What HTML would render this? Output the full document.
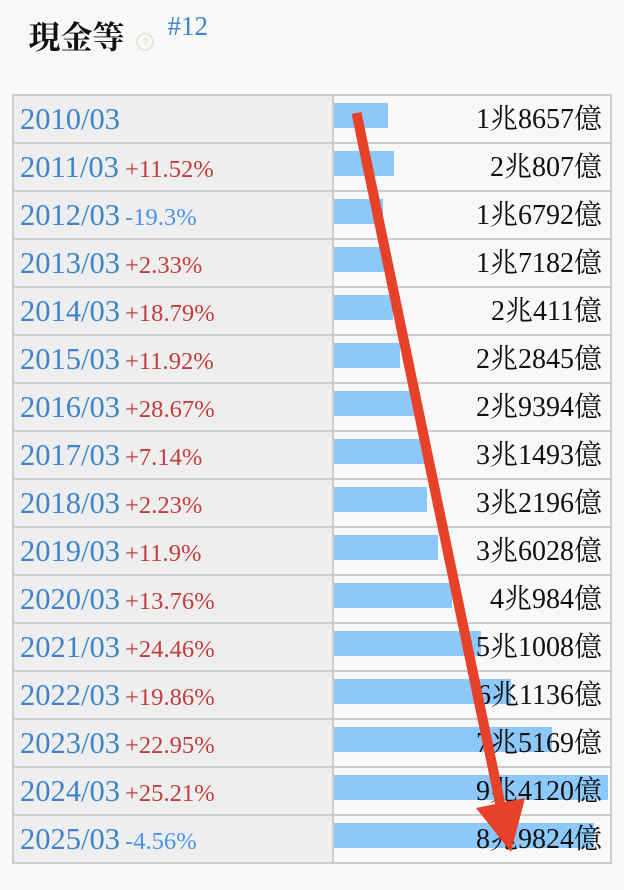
<!DOCTYPE html>
<html>
<head>
<meta charset="utf-8">
<style>
html,body{margin:0;padding:0;background:#f8f8f8;}
svg{display:block;}
.d{font-family:"Liberation Serif","Noto Serif CJK SC",serif;font-size:30.5px;fill:#3d84cc;}
.pp{font-family:"Liberation Serif","Noto Serif CJK SC",serif;font-size:24.6px;fill:#c43c3c;}
.pn{font-family:"Liberation Serif","Noto Serif CJK SC",serif;font-size:24.6px;fill:#4a94ec;}
.v{font-family:"Liberation Serif","Noto Serif CJK SC",serif;font-size:28px;fill:#111;}
</style>
</head>
<body>
<svg width="624" height="890" viewBox="0 0 624 890" xmlns="http://www.w3.org/2000/svg">
<rect x="0" y="0" width="624" height="890" fill="#f8f8f8"/>
<text x="28.5" y="48.5" font-family="'Noto Serif CJK SC','Noto Serif CJK JP',serif" font-weight="bold" font-size="32" fill="#111">現金等</text>
<circle cx="145" cy="42" r="8" fill="none" stroke="#e8e0d2" stroke-width="1.6"/>
<text x="145" y="46" text-anchor="middle" font-family="'Liberation Sans',sans-serif" font-size="11" fill="#e0d8ca">?</text>
<text x="167.5" y="35" font-family="'Liberation Serif',serif" font-size="27" fill="#3d84cc">#12</text>

<!-- columns -->
<rect x="14" y="96" width="318" height="766" fill="#eeeeee"/>
<rect x="334" y="96" width="276" height="766" fill="#f8f8f8"/>

<!-- bars -->
<g fill="#8cc8fa">
<rect x="334" y="103" width="54" height="25"/>
<rect x="334" y="151" width="60" height="25"/>
<rect x="334" y="199" width="49" height="25"/>
<rect x="334" y="247" width="50" height="25"/>
<rect x="334" y="295" width="59" height="25"/>
<rect x="334" y="343" width="66" height="25"/>
<rect x="334" y="391" width="85" height="25"/>
<rect x="334" y="439" width="91" height="25"/>
<rect x="334" y="487" width="93" height="25"/>
<rect x="334" y="535" width="104" height="25"/>
<rect x="334" y="583" width="118" height="25"/>
<rect x="334" y="631" width="147" height="25"/>
<rect x="334" y="679" width="177" height="25"/>
<rect x="334" y="727" width="218" height="25"/>
<rect x="334" y="775" width="274" height="25"/>
<rect x="334" y="823" width="260" height="25"/>
</g>

<!-- grid lines -->
<g fill="#cccccc">
<rect x="12" y="94" width="600" height="2"/>
<rect x="12" y="142" width="600" height="2"/>
<rect x="12" y="190" width="600" height="2"/>
<rect x="12" y="238" width="600" height="2"/>
<rect x="12" y="286" width="600" height="2"/>
<rect x="12" y="334" width="600" height="2"/>
<rect x="12" y="382" width="600" height="2"/>
<rect x="12" y="430" width="600" height="2"/>
<rect x="12" y="478" width="600" height="2"/>
<rect x="12" y="526" width="600" height="2"/>
<rect x="12" y="574" width="600" height="2"/>
<rect x="12" y="622" width="600" height="2"/>
<rect x="12" y="670" width="600" height="2"/>
<rect x="12" y="718" width="600" height="2"/>
<rect x="12" y="766" width="600" height="2"/>
<rect x="12" y="814" width="600" height="2"/>
<rect x="12" y="862" width="600" height="2"/>
<rect x="12" y="94" width="2" height="770"/>
<rect x="332" y="94" width="2" height="770"/>
<rect x="610" y="94" width="2" height="770"/>
</g>

<!-- dates & pct -->
<text class="d" x="20" y="129">2010/03</text>
<text class="d" x="20" y="177">2011/03</text><text class="pp" x="125" y="177">+11.52%</text>
<text class="d" x="20" y="225">2012/03</text><text class="pn" x="125" y="225">-19.3%</text>
<text class="d" x="20" y="273">2013/03</text><text class="pp" x="125" y="273">+2.33%</text>
<text class="d" x="20" y="321">2014/03</text><text class="pp" x="125" y="321">+18.79%</text>
<text class="d" x="20" y="369">2015/03</text><text class="pp" x="125" y="369">+11.92%</text>
<text class="d" x="20" y="417">2016/03</text><text class="pp" x="125" y="417">+28.67%</text>
<text class="d" x="20" y="465">2017/03</text><text class="pp" x="125" y="465">+7.14%</text>
<text class="d" x="20" y="513">2018/03</text><text class="pp" x="125" y="513">+2.23%</text>
<text class="d" x="20" y="561">2019/03</text><text class="pp" x="125" y="561">+11.9%</text>
<text class="d" x="20" y="609">2020/03</text><text class="pp" x="125" y="609">+13.76%</text>
<text class="d" x="20" y="657">2021/03</text><text class="pp" x="125" y="657">+24.46%</text>
<text class="d" x="20" y="705">2022/03</text><text class="pp" x="125" y="705">+19.86%</text>
<text class="d" x="20" y="753">2023/03</text><text class="pp" x="125" y="753">+22.95%</text>
<text class="d" x="20" y="801">2024/03</text><text class="pp" x="125" y="801">+25.21%</text>
<text class="d" x="20" y="849">2025/03</text><text class="pn" x="125" y="849">-4.56%</text>

<!-- values -->
<g text-anchor="end">
<text class="v" x="602" y="128">1兆8657億</text>
<text class="v" x="602" y="176">2兆807億</text>
<text class="v" x="602" y="224">1兆6792億</text>
<text class="v" x="602" y="272">1兆7182億</text>
<text class="v" x="602" y="320">2兆411億</text>
<text class="v" x="602" y="368">2兆2845億</text>
<text class="v" x="602" y="416">2兆9394億</text>
<text class="v" x="602" y="464">3兆1493億</text>
<text class="v" x="602" y="512">3兆2196億</text>
<text class="v" x="602" y="560">3兆6028億</text>
<text class="v" x="602" y="608">4兆984億</text>
<text class="v" x="602" y="656">5兆1008億</text>
<text class="v" x="602" y="704">6兆1136億</text>
<text class="v" x="602" y="752">7兆5169億</text>
<text class="v" x="602" y="800">9兆4120億</text>
<text class="v" x="602" y="848">8兆9824億</text>
</g>

<!-- arrow -->
<line x1="356.5" y1="113" x2="500.5" y2="805" stroke="#e8412a" stroke-width="10"/>
<polygon points="476,808 525,798 511,852" fill="#e8412a"/>
</svg>
</body>
</html>
